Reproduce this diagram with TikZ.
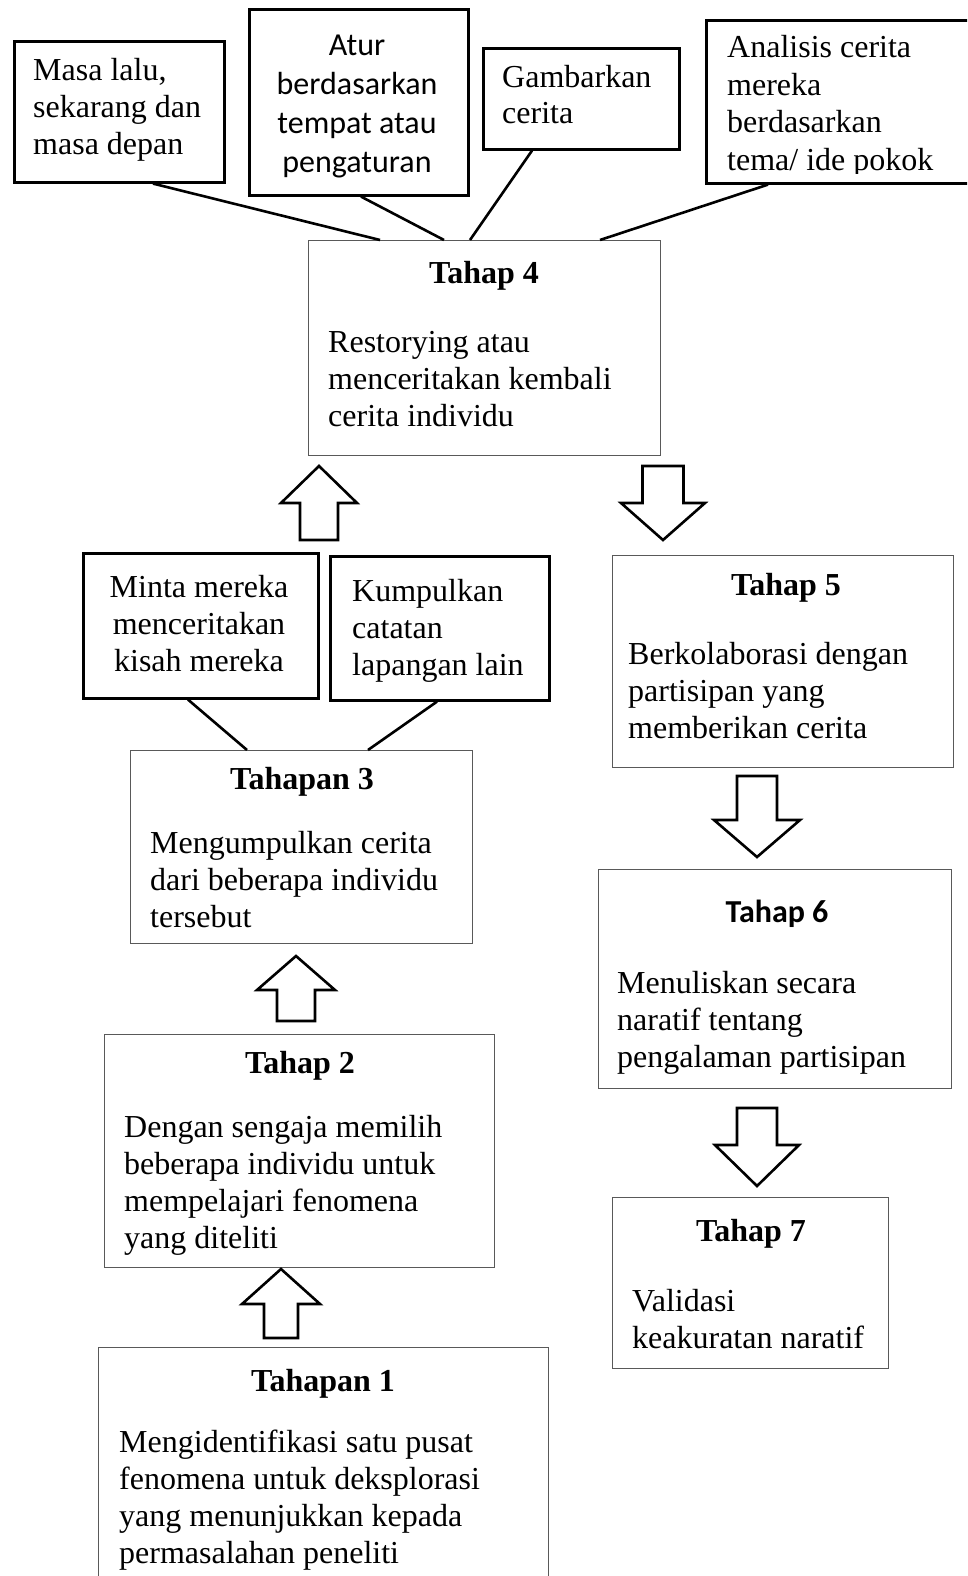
\documentclass[tikz,border=0pt]{standalone}
\usepackage{fontspec}
\setmainfont{Liberation Serif}
\newfontfamily\calib{Carlito}
\usetikzlibrary{calc}
\tikzset{
 heavybox/.style={draw=black, line width=2.6pt, inner sep=0pt, anchor=north west},
 lightbox/.style={draw=black!65, line width=1.3pt, inner sep=0pt, anchor=north west},
 bodytxt/.style={inner sep=0pt, anchor=base west, align=left, font=\fontsize{32}{36.8}\selectfont},
 headtxt/.style={inner sep=0pt, anchor=base, font=\fontsize{32}{36.8}\selectfont\bfseries},
 link/.style={line width=2.6pt},
 hollow/.style={draw=black, line width=2.6pt, fill=white, line join=miter},
}
\newcommand\mkbox[6]{\node[#2, minimum width={(#5-#3)*1pt}, minimum height={(#6-#4)*1pt}] (#1) at (#3,#4) {};}
\newcommand\blockarrow[6]{\draw[hollow] (#1-#6,#2) -- (#1-#6,#3) -- (#1-#5,#3) -- (#1,#4) -- (#1+#5,#3) -- (#1+#6,#3) -- (#1+#6,#2) -- cycle;}
\begin{document}
\begin{tikzpicture}[x=1pt,y=-1pt]
\useasboundingbox (0,0) rectangle (967,1576);
\clip (0,0) rectangle (967,1576);
\fill[white] (0,0) rectangle (967,1576);
% boxes
\mkbox{boxA}{heavybox}{13}{40}{223}{181}
\mkbox{boxB}{heavybox}{248}{8}{467}{194}
\mkbox{boxC}{heavybox}{482}{47}{678}{148}
\mkbox{boxD}{heavybox}{705}{19}{975}{182}
\mkbox{tfour}{lightbox}{308}{240}{660}{455}
\mkbox{minta}{heavybox}{82}{552}{317}{697}
\mkbox{kump}{heavybox}{329}{555}{548}{699}
\mkbox{tthree}{lightbox}{130}{750}{472}{943}
\mkbox{ttwo}{lightbox}{104}{1034}{494}{1267}
\mkbox{tone}{lightbox}{98}{1347}{548}{1590}
\mkbox{tfive}{lightbox}{612}{555}{953}{767}
\mkbox{tsix}{lightbox}{598}{869}{951}{1088}
\mkbox{tseven}{lightbox}{612}{1197}{888}{1368}
% texts (positions are baselines of the last line)
\node[bodytxt] (txA) at (33,154) {Masa lalu,\\sekarang dan\\masa depan};
\node[inner sep=0pt, anchor=base, align=center, font=\calib\fontsize{32}{39}\selectfont] (txB) at (357,172) {Atur\\berdasarkan\\tempat atau\\pengaturan};
\node[bodytxt] (txC) at (502,124) {Gambarkan\\cerita};
\begin{scope}
\clip (705,19) rectangle (975,173);
\node[bodytxt, font=\fontsize{32}{37.5}\selectfont] (txD) at (727,170) {Analisis cerita\\mereka\\berdasarkan\\tema/ ide pokok};
\end{scope}
\node[headtxt] (hfour) at (484,283) {Tahap 4};
\node[bodytxt] (bfour) at (328,426) {Restorying atau\\menceritakan kembali\\cerita individu};
\node[inner sep=0pt, anchor=base, align=center, font=\fontsize{32}{36.8}\selectfont] (txminta) at (199,671) {Minta mereka\\menceritakan\\kisah mereka};
\node[bodytxt] (txkump) at (352,675) {Kumpulkan\\catatan\\lapangan lain};
\node[headtxt] (hthree) at (302,789) {Tahapan 3};
\node[bodytxt] (bthree) at (150,927) {Mengumpulkan cerita\\dari beberapa individu\\tersebut};
\node[headtxt] (htwo) at (300,1073) {Tahap 2};
\node[bodytxt] (btwo) at (124,1248) {Dengan sengaja memilih\\beberapa individu untuk\\mempelajari fenomena\\yang diteliti};
\node[headtxt] (hone) at (323,1391) {Tahapan 1};
\node[bodytxt] (bone) at (119,1563) {Mengidentifikasi satu pusat\\fenomena untuk deksplorasi\\yang menunjukkan kepada\\permasalahan peneliti};
\node[headtxt] (hfive) at (786,595) {Tahap 5};
\node[bodytxt] (bfive) at (628,738) {Berkolaborasi dengan\\partisipan yang\\memberikan cerita};
\node[inner sep=0pt, anchor=base, font=\calib\fontsize{32}{39}\selectfont\bfseries] (hsix) at (777,922) {Tahap 6};
\node[bodytxt] (bsix) at (617,1067) {Menuliskan secara\\naratif tentang\\pengalaman partisipan};
\node[headtxt] (hseven) at (751,1241) {Tahap 7};
\node[bodytxt] (bseven) at (632,1348) {Validasi\\keakuratan naratif};
% links
\draw[link] ([xshift=140pt]boxA.south west) -- ([xshift=72pt]tfour.north west);
\draw[link] ([xshift=113pt]boxB.south west) -- ([xshift=136pt]tfour.north west);
\draw[link] ([xshift=50pt]boxC.south west) -- ([xshift=162pt]tfour.north west);
\draw[link] ([xshift=63pt]boxD.south west) -- ([xshift=292pt]tfour.north west);
\draw[link] ([xshift=106pt]minta.south west) -- ([xshift=117pt]tthree.north west);
\draw[link] ([xshift=108pt]kump.south west) -- ([xshift=238pt]tthree.north west);
% block arrows
\blockarrow{319}{540}{503}{466}{38}{19}
\blockarrow{663}{466}{503}{540}{42}{20.5}
\blockarrow{757}{776}{820}{857}{43}{20}
\blockarrow{757}{1108}{1145}{1186}{42}{20}
\blockarrow{296}{1021}{990}{956}{39}{19}
\blockarrow{281}{1338}{1304}{1269}{39}{17}
\end{tikzpicture}
\end{document}
